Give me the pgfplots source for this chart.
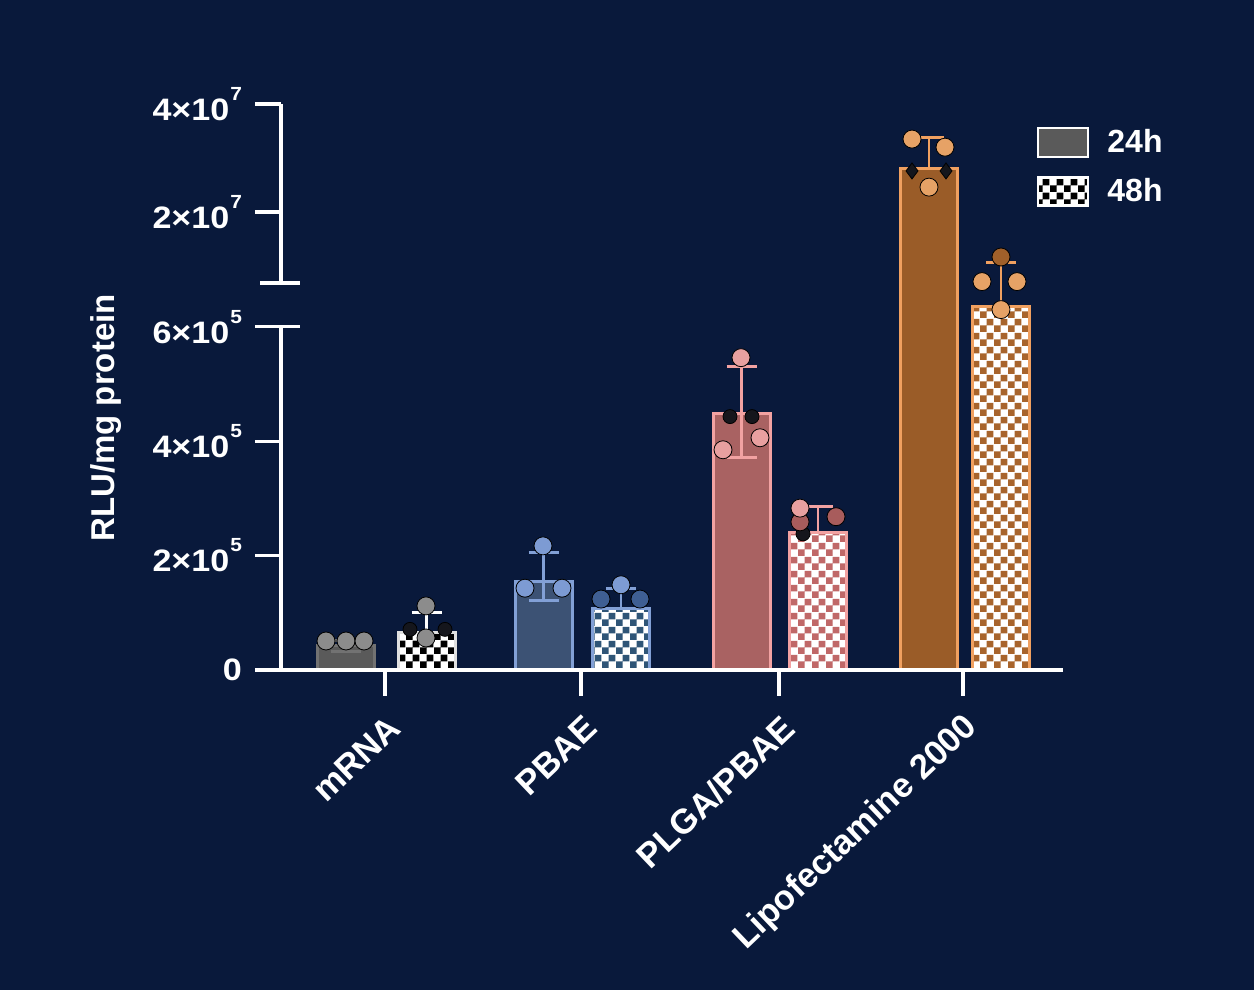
\documentclass[border=0pt]{standalone}
\usepackage{fontspec}
\setmainfont{Liberation Sans}
\newfontfamily\tickfont[FakeStretch=1.1]{Liberation Sans}
\usepackage{pgfplots}
\pgfplotsset{compat=1.18}
\usetikzlibrary{patterns}

\pgfdeclarepatternformonly{mychecker}{\pgfpointorigin}{\pgfqpoint{7pt}{7pt}}{\pgfqpoint{7pt}{7pt}}{%
\pgfpathrectangle{\pgfpointorigin}{\pgfqpoint{3.5pt}{3.5pt}}%
\pgfpathrectangle{\pgfqpoint{3.5pt}{3.5pt}}{\pgfqpoint{3.5pt}{3.5pt}}%
\pgfusepath{fill}}

\newcommand{\sci}[2]{#1×10\kern0.5pt\raisebox{10pt}{\fontsize{9.5}{10}\selectfont #2}}

\definecolor{bg}{HTML}{09193B}
\definecolor{mF}{HTML}{5A5A5A}
\definecolor{mB}{HTML}{727272}
\definecolor{mP}{HTML}{8C8C8C}
\definecolor{pF}{HTML}{3C5274}
\definecolor{pB}{HTML}{82A0D6}
\definecolor{pP}{HTML}{7D9BD3}
\definecolor{pC}{HTML}{2F5577}
\definecolor{pD}{HTML}{3F5F93}
\definecolor{gF}{HTML}{A96262}
\definecolor{gB}{HTML}{F2A2A2}
\definecolor{gP}{HTML}{E8A0A0}
\definecolor{gC}{HTML}{C06868}
\definecolor{gD}{HTML}{A85C5C}
\definecolor{lF}{HTML}{9A5C28}
\definecolor{lB}{HTML}{F0A060}
\definecolor{lP}{HTML}{E6A266}
\definecolor{lC}{HTML}{A8642C}
\definecolor{lD}{HTML}{A0602A}
\definecolor{dk}{HTML}{15161C}

\pgfplotsset{
  mybase/.style={
    scale only axis, width=391pt, height=286pt,
    at={(140.5pt,160pt)}, anchor=south west,
    xmin=281, xmax=1063, clip=false,
    yticklabel style={text=white, xshift=-3pt, font=\fontsize{15.5}{18}\tickfont\bfseries},
    scaled y ticks=false, minor tick num=0,
  },
  myticks/.style={
    tick align=outside, major tick length=13pt,
    tick style={white, line width=1.6pt},
    axis line style={-},
    every outer x axis line/.append style={-},
    every inner x axis line/.append style={-},
    every outer y axis line/.append style={-},
    every inner y axis line/.append style={-},
  },
  barstyle/.style={ybar, bar width=28.5pt, bar shift=0pt, line width=1.5pt},
  errstyle/.style={error bars/.cd, y dir=both, y explicit,
    error bar style={draw=#1, line width=1.2pt},
    error mark options={rotate=90, mark size=7.5pt, line width=1.5pt, draw=#1}},
  errplus/.style={error bars/.cd, y dir=plus, y explicit,
    error bar style={draw=#1, line width=1.2pt},
    error mark options={rotate=90, mark size=7.5pt, line width=1.5pt, draw=#1}},
  pts/.style={only marks, mark=*, mark size=4.5pt, mark options={draw=none, fill=#1}},
}

\begin{document}
\begin{tikzpicture}
\fill[bg] (0,0) rectangle (627pt,495pt);

% ---------- lower segment ----------
\begin{axis}[mybase, ymin=0, ymax=1e6, axis on top,
  axis x line=bottom, axis y line=left, myticks,
  x axis line style={-, white, line width=1.6pt},
  y axis line style={draw=none},
  xtick={385,581,779,963},
  xticklabels={mRNA,PBAE,PLGA/PBAE,Lipofectamine 2000},
  xticklabel style={xshift=5pt, yshift=-13pt, rotate=43.6, anchor=east, inner sep=0pt,
    text=white, font=\fontsize{17.3}{20}\selectfont\bfseries},
  ytick={0,200000,400000,600000},
  yticklabels={0,\sci{2}{5},\sci{4}{5},\sci{6}{5}},
  legend style={at={(0.9668,0.9493)}, anchor=north west, draw=none, fill=none,
    inner sep=0pt, outer sep=0pt, row sep=9pt, nodes={inner sep=0pt},
    font=\fontsize{16}{19}\selectfont\bfseries, text=white,
    /tikz/every odd column/.append style={column sep=9pt}},
  legend cell align=left,
]
\addlegendimage{legend image code/.code={\draw[fill=mF, draw=white, line width=1.2pt] (0pt,-7.25pt) rectangle (25pt,7.25pt);}}
\addlegendentry{24h}
\addlegendimage{legend image code/.code={\draw[preaction={fill=white}, pattern=mychecker, pattern color=black, draw=white, line width=1.2pt] (0pt,-7pt) rectangle (25pt,7pt);}}
\addlegendentry{48h}

% mRNA
\addplot[barstyle, draw=mB, fill=mF, errstyle=mB] coordinates {(346,42000) +- (0,9000)};
\addplot[pts=mP] coordinates {(326,50700) (346,50700) (364,50700)};
\addplot[pts=dk, mark size=3.5pt] coordinates {(410,71000) (445,71000)};
\addplot[barstyle, draw=white!88!black, preaction={fill=white}, pattern=mychecker, pattern color=black, errplus=white] coordinates {(426.5,66400) += (0,33300) -= (0,0)};
\addplot[pts=mP] coordinates {(426,112000) (426,56000)};

% PBAE
\addplot[barstyle, draw=pB, fill=pF, errstyle=pB] coordinates {(543.5,154000) += (0,52000) -= (0,33000)};
\addplot[pts=pP] coordinates {(525,143000) (562,143000) (543,217000)};
\addplot[barstyle, draw=pB, preaction={fill=white}, pattern=mychecker, pattern color=pC, errplus=pB] coordinates {(621,107000) += (0,35000) -= (0,0)};
\addplot[pts=pD] coordinates {(601,124000) (640,124000)};
\addplot[pts=pP] coordinates {(621,149000)};

% PLGA/PBAE
\addplot[pts=dk, mark size=3.5pt] coordinates {(730,443000) (752,443000)};
\addplot[barstyle, draw=gB, fill=gF, errstyle=gB] coordinates {(741.5,448000) += (0,82000) -= (0,76000)};
\addplot[pts=gP] coordinates {(723,385000) (760,406000) (741,546000)};
\addplot[pts=dk, mark size=3.5pt] coordinates {(803,238000)};
\addplot[barstyle, draw=gB, preaction={fill=white}, pattern=mychecker, pattern color=gC, errplus=gB] coordinates {(818,241000) += (0,44000) -= (0,0)};
\addplot[pts=gD] coordinates {(800,259000) (836,268000)};
\addplot[pts=gP] coordinates {(800,283000)};

% Lipofectamine 48h
\addplot[barstyle, draw=lB, preaction={fill=white}, pattern=mychecker, pattern color=lC, errplus=lB] coordinates {(1001,635000) += (0,78000) -= (0,0)};
\addplot[pts=lP] coordinates {(982,679000) (1017,679000) (1001,630000)};
\addplot[pts=lD] coordinates {(1001,722000)};

% axis segment and break
\draw[white, line width=1.6pt] (axis cs:281,0) -- (axis cs:281,600000);
\draw[white, line width=1.6pt] (axis cs:281,600000) -- ++(9.5pt,0pt);
\node[rotate=90, text=white, font=\fontsize{16.5}{19}\selectfont\bfseries] at (axis cs:106,440600) {RLU/mg protein};
\end{axis}

% ---------- upper segment ----------
\begin{axis}[mybase, ymin=-6.481e7, ymax=4.111e7,
  axis x line=none, axis y line=left, myticks,
  y axis line style={draw=none},
  ytick={2e7,4e7},
  yticklabels={\sci{2}{7},\sci{4}{7}},
]
\addplot[only marks, mark=diamond*, mark size=4pt, mark options={draw=none, fill=dk}] coordinates {(912,2.76e7) (946,2.76e7)};
\addplot[fill=lF, draw=none] coordinates {(900.5,-6.45e7) (900.5,2.80e7) (957.5,2.80e7) (957.5,-6.45e7)} -- cycle;
\addplot[draw=lB, line width=1.5pt] coordinates {(900.5,-6.45e7) (900.5,2.80e7) (957.5,2.80e7) (957.5,-6.45e7)};
\addplot[draw=none, errplus=lB] coordinates {(929,2.80e7) += (0,5.7e6) -= (0,0)};
\addplot[pts=lP] coordinates {(912,3.35e7) (945,3.20e7) (929,2.46e7)};

\draw[white, line width=1.6pt] (axis cs:281,6.85e6) -- (axis cs:281,4e7);
\draw[white, line width=1.6pt] (axis cs:281,6.85e6) ++(-10.5pt,0pt) -- ++(20pt,0pt);
\end{axis}

\pgfresetboundingbox
\useasboundingbox (0,0) rectangle (627pt,495pt);
\end{tikzpicture}
\end{document}
